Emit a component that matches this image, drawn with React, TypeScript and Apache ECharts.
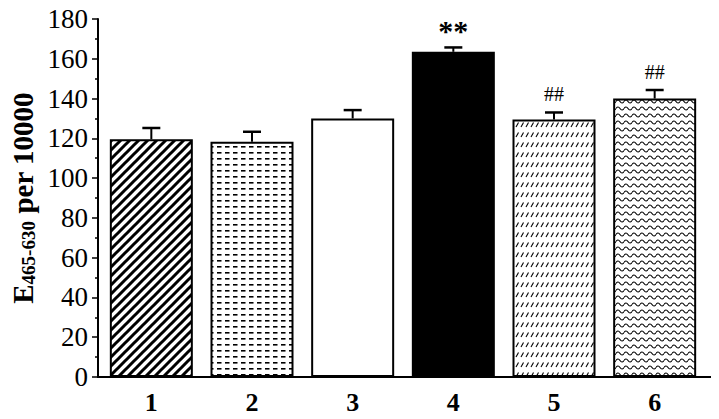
import React, { useEffect, useRef } from "react";
import * as echarts from "echarts";

const categories = ["1", "2", "3", "4", "5", "6"];
const means = [119.5, 118.3, 130, 163.5, 129.5, 140];
const errors = [5.7, 5.0, 4.2, 2.2, 3.5, 4.3];
const marks = ["", "", "", "**", "##", "##"];
const yTicks = { min: 0, max: 180, interval: 20 };

function makeTile(w: number, h: number, draw: (ctx: CanvasRenderingContext2D) => void) {
  const c = document.createElement("canvas");
  c.width = w;
  c.height = h;
  const ctx = c.getContext("2d")!;
  ctx.fillStyle = "#fff";
  ctx.fillRect(0, 0, w, h);
  ctx.strokeStyle = "#000";
  ctx.fillStyle = "#000";
  draw(ctx);
  return { image: c.toDataURL(), repeat: "repeat" } as any;
}

export default function App() {
  const ref = useRef<HTMLDivElement>(null);
  useEffect(() => {
    if (!ref.current) return;
    const chart = echarts.init(ref.current, null, { renderer: "svg" });

    const hatch = makeTile(9, 9, (ctx) => {
      ctx.lineWidth = 3;
      ctx.beginPath();
      ctx.moveTo(-2, 11);
      ctx.lineTo(11, -2);
      ctx.moveTo(-2, 2);
      ctx.lineTo(2, -2);
      ctx.moveTo(7, 11);
      ctx.lineTo(11, 7);
      ctx.stroke();
    });
    const dashes = makeTile(8, 6, (ctx) => {
      ctx.fillRect(1, 2, 4.5, 1.6);
    });
    const slashes = makeTile(5, 10, (ctx) => {
      ctx.lineWidth = 1.1;
      ctx.beginPath();
      ctx.moveTo(1, 7);
      ctx.lineTo(3.5, 2.5);
      ctx.stroke();
    });
    const waves = makeTile(8, 7, (ctx) => {
      ctx.lineWidth = 1.2;
      ctx.beginPath();
      ctx.moveTo(0, 3.5);
      ctx.quadraticCurveTo(2, 0.5, 4, 3.5);
      ctx.quadraticCurveTo(6, 6.5, 8, 3.5);
      ctx.stroke();
    });
    const fills = [hatch, dashes, "#ffffff", "#000000", slashes, waves];

    const font = "'Liberation Serif', 'Times New Roman', serif";

    chart.setOption({
      animation: false,
      backgroundColor: "#ffffff",
      grid: { left: 101, right: 14, top: 19, bottom: 42 },
      xAxis: {
        type: "category",
        data: categories,
        axisLine: { show: false },
        axisTick: { show: false },
        axisLabel: {
          color: "#000",
          fontFamily: font,
          fontWeight: "bold",
          fontSize: 26,
          margin: 12,
        },
      },
      yAxis: {
        type: "value",
        min: yTicks.min,
        max: yTicks.max,
        interval: yTicks.interval,
        offset: 3,
        axisLine: { show: true, lineStyle: { color: "#000", width: 2 } },
        axisTick: { show: true, inside: false, length: 6, lineStyle: { color: "#000", width: 1.5 } },
        minorTick: { show: true, splitNumber: 2, length: 3, lineStyle: { color: "#000", width: 1.5 } },
        splitLine: { show: false },
        axisLabel: {
          color: "#000",
          fontFamily: font,
          fontSize: 27,
          margin: 10,
        },
      },
      graphic: [
        {
          type: "line",
          shape: { x1: 97, y1: 377, x2: 712, y2: 377 },
          style: { stroke: "#000", lineWidth: 2 },
          z: 10,
        },
        {
          type: "text",
          x: 23,
          y: 198,
          rotation: Math.PI / 2,
          style: {
            text: "{b|E}{s|465-630}{b| per 10000}",
            align: "center",
            verticalAlign: "middle",
            fill: "#000",
            rich: {
              b: { fontFamily: font, fontWeight: "bold", fontSize: 29, fill: "#000", lineHeight: 30 },
              s: { fontFamily: font, fontWeight: "bold", fontSize: 19, fill: "#000", verticalAlign: "bottom", lineHeight: 30 },
            },
          },
        },
      ],
      series: [
        {
          type: "bar",
          barWidth: 83,
          data: means.map((v, i) => ({
            value: v,
            itemStyle: { color: fills[i], borderColor: "#000", borderWidth: 2 },
          })),
          z: 2,
        },
        {
          type: "custom",
          data: means.map((v, i) => [i, v, v + errors[i], marks[i]]),
          z: 3,
          renderItem: (params: any, api: any) => {
            const i = api.value(0);
            const base = api.coord([i, api.value(1)]);
            const top = api.coord([i, api.value(2)]);
            const mark = marks[params.dataIndex];
            const children: any[] = [
              {
                type: "line",
                shape: { x1: base[0], y1: base[1], x2: top[0], y2: top[1] },
                style: { stroke: "#000", lineWidth: 2 },
              },
              {
                type: "line",
                shape: { x1: top[0] - 9, y1: top[1], x2: top[0] + 9, y2: top[1] },
                style: { stroke: "#000", lineWidth: 2.5 },
              },
            ];
            if (mark) {
              const isStar = mark === "**";
              children.push({
                type: "text",
                x: top[0],
                y: top[1] - (isStar ? 2 : 8),
                style: {
                  text: mark,
                  align: "center",
                  verticalAlign: "bottom",
                  fill: "#000",
                  fontFamily: font,
                  fontWeight: isStar ? "bold" : "normal",
                  fontSize: isStar ? 30 : 20,
                },
              });
            }
            return { type: "group", children };
          },
        },
      ],
    });
    return () => chart.dispose();
  }, []);
  return <div ref={ref} style={{ width: 719, height: 419, margin: -8 }} />;
}
